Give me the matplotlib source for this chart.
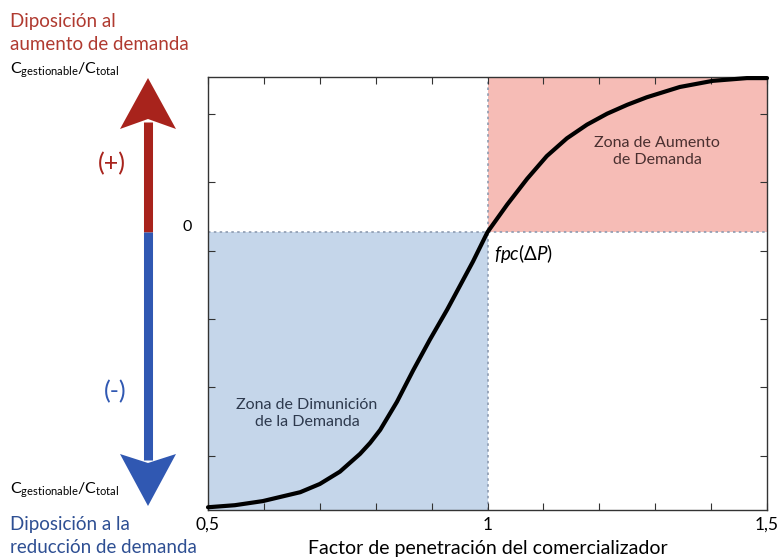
import matplotlib
matplotlib.use("Agg")
import matplotlib.pyplot as plt
from matplotlib.patches import Polygon

plt.rcParams['font.family'] = ['Lato', 'DejaVu Sans']
plt.rcParams['mathtext.fontset'] = 'custom'
plt.rcParams['mathtext.rm'] = 'Lato'
plt.rcParams['mathtext.it'] = 'Lato:italic'

# curva (factor de penetración vs C_gestionable/C_total, unidades arbitrarias)
fpc = [0.500, 0.548, 0.598, 0.665, 0.700, 0.736, 0.772, 0.790, 0.808, 0.838, 0.867, 0.897,
       0.928, 0.951, 0.974, 1.000, 1.035, 1.071, 1.106, 1.142, 1.178, 1.214, 1.250,
       1.285, 1.344, 1.403, 1.464, 1.500]
carga = [-4.02, -3.99, -3.93, -3.80, -3.68, -3.50, -3.24, -3.08, -2.89, -2.48, -2.02, -1.57,
         -1.13, -0.78, -0.43, 0.00, 0.40, 0.78, 1.11, 1.37, 1.57, 1.73, 1.86,
         1.97, 2.12, 2.21, 2.25, 2.25]

x_ticks = [0.5, 0.6, 0.7, 0.8, 0.9, 1.0, 1.1, 1.2, 1.3, 1.4, 1.5]
x_labels = ["0,5", "", "", "", "", "1", "", "", "", "", "1,5"]
y_ticks = [-3.27, -2.27, -1.27, -0.27, 0.73, 1.73]
y_min, y_max = -4.06, 2.266
fpc_0 = 1.0

azul_zona = "#c5d6ea"
rosa_zona = "#f6bcb6"
rojo = "#a8231c"
azul = "#3058b2"

fig = plt.figure(figsize=(7.8, 5.6), dpi=100)
ax = fig.add_axes([208 / 780, 1 - 510 / 560, (767 - 208) / 780, (510 - 77) / 560])

ax.fill_between([0.5, fpc_0], y_min, 0, color=azul_zona, lw=0, zorder=0)
ax.fill_between([fpc_0, 1.5], 0, y_max, color=rosa_zona, lw=0, zorder=0)
ax.axhline(0, color="#8d9bb0", ls=(0, (1.5, 2)), lw=1.2, zorder=1)
ax.axvline(fpc_0, color="#8d9bb0", ls=(0, (1.5, 2)), lw=1.2, zorder=1)
ax.plot(fpc, carga, color="black", lw=3, solid_capstyle="round",
        solid_joinstyle="round", zorder=3, clip_on=False)

ax.set_xlim(0.5, 1.5)
ax.set_ylim(y_min, y_max)
ax.set_xticks(x_ticks)
ax.set_xticklabels(x_labels, fontsize=12.5)
ax.set_yticks(y_ticks)
ax.set_yticklabels([])
ax.tick_params(direction="in", length=5, width=0.8, color="#333333",
               top=True, right=True, pad=5)
for s in ax.spines.values():
    s.set_color("#333333")
    s.set_linewidth(1)
ax.set_xlabel("Factor de penetración del comercializador", fontsize=14, labelpad=5)

ax.text(1.0 + 0.012, -0.14, r"$\it{fpc(\Delta P)}$", fontsize=13.5, va="top", ha="left")
ax.text(1.304, 1.18, "Zona de Aumento\nde Demanda", fontsize=11.5, ha="center", va="center",
        color="#4a3030", linespacing=1.25)
ax.text(0.677, -2.65, "Zona de Dimunición\nde la Demanda", fontsize=11.5, ha="center", va="center",
        color="#2e3a4e", linespacing=1.25)

# capa en pixeles para las flechas y textos laterales
ov = fig.add_axes([0, 0, 1, 1], zorder=-1)
ov.set_xlim(0, 780)
ov.set_ylim(560, 0)
ov.axis("off")

ov.plot([148, 148], [232, 122], color=rojo, lw=6.5, solid_capstyle="butt")
ov.plot([148, 148], [232, 460], color=azul, lw=6.5, solid_capstyle="butt")
ov.add_patch(Polygon([(148, 78), (120, 129), (148, 119), (176, 129)], closed=True,
                     color=rojo, lw=0))
ov.add_patch(Polygon([(148, 506), (120, 454), (148, 463), (176, 454)], closed=True,
                     color=azul, lw=0))

ov.text(10, 27, "Diposición al", fontsize=13.5, color="#b03a30", va="baseline", ha="left")
ov.text(10, 50, "aumento de demanda", fontsize=13.5, color="#b03a30", va="baseline", ha="left")
ov.text(10, 530, "Diposición a la", fontsize=13.5, color="#2e4f93", va="baseline", ha="left")
ov.text(10, 553, "reducción de demanda", fontsize=13.5, color="#2e4f93", va="baseline", ha="left")
ov.text(10, 70, r"$\mathrm{C_{gestionable}/C_{total}}$", fontsize=11.5, va="center", ha="left")
ov.text(10, 490, r"$\mathrm{C_{gestionable}/C_{total}}$", fontsize=11.5, va="center", ha="left")
ov.text(112, 164, "(+)", fontsize=18, color=rojo, ha="center", va="center")
ov.text(115, 392, "(-)", fontsize=18, color=azul, ha="center", va="center")
ov.text(187, 227, "0", fontsize=11.5, ha="center", va="center")

fig.savefig("out.png", dpi=100)
